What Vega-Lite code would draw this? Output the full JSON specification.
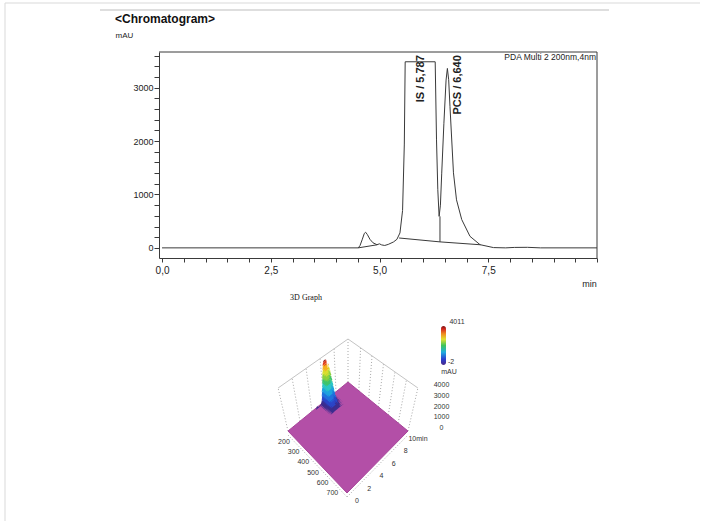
{
  "$schema": "https://vega.github.io/schema/vega-lite/v6.json",
  "width": 701,
  "height": 522,
  "autosize": {"type": "fit", "contains": "padding"},
  "padding": 0,
  "background": "#ffffff",
  "config": {"view": {"stroke": null}, "font": "Liberation Sans", "axis": {"labelOverlap": false, "labelFlush": false}},
  "datasets": {
    "trace": [
      {"t": 0, "v": 0}, {"t": 4.51, "v": 0}, {"t": 4.55, "v": 40}, {"t": 4.6, "v": 150}, {"t": 4.65, "v": 270},
      {"t": 4.68, "v": 293}, {"t": 4.72, "v": 250}, {"t": 4.78, "v": 160}, {"t": 4.85, "v": 95}, {"t": 4.94, "v": 60},
      {"t": 5.0, "v": 75}, {"t": 5.05, "v": 55}, {"t": 5.12, "v": 45}, {"t": 5.2, "v": 65}, {"t": 5.32, "v": 110},
      {"t": 5.4, "v": 160}, {"t": 5.47, "v": 280}, {"t": 5.53, "v": 700}, {"t": 5.57, "v": 1945}, {"t": 5.59, "v": 3487},
      {"t": 6.28, "v": 3487}, {"t": 6.31, "v": 2023}, {"t": 6.34, "v": 1089}, {"t": 6.37, "v": 590}, {"t": 6.4, "v": 800},
      {"t": 6.43, "v": 1400}, {"t": 6.48, "v": 2335}, {"t": 6.53, "v": 3144}, {"t": 6.56, "v": 3362}, {"t": 6.59, "v": 3150},
      {"t": 6.62, "v": 2645}, {"t": 6.7, "v": 1406}, {"t": 6.77, "v": 900}, {"t": 6.89, "v": 530}, {"t": 7.08, "v": 216},
      {"t": 7.31, "v": 60}, {"t": 7.62, "v": 5}, {"t": 7.9, "v": 0}, {"t": 8.1, "v": 8}, {"t": 8.4, "v": 10},
      {"t": 8.7, "v": 0}, {"t": 10, "v": 0}
    ],
    "base": [
      {"seg": "a", "t": 4.51, "v": 0}, {"seg": "a", "t": 4.95, "v": 58},
      {"seg": "b", "t": 5.45, "v": 185}, {"seg": "b", "t": 6.39, "v": 112}, {"seg": "b", "t": 7.32, "v": 58},
      {"seg": "c", "t": 6.39, "v": 112}, {"seg": "c", "t": 6.39, "v": 590}
    ],
    "peaks": [
      {"t": 5.95, "v": 3611, "label": "IS / 5,787"},
      {"t": 6.8, "v": 3611, "label": "PCS / 6,640"}
    ],
    "floor": [
      {"k": 1, "t": 0, "wl": 190}, {"k": 2, "t": 10, "wl": 190}, {"k": 3, "t": 10, "wl": 800},
      {"k": 4, "t": 0, "wl": 800}, {"k": 5, "t": 0, "wl": 190}
    ],
    "walls": [
      {"t": 0, "wl": 190}, {"t": 2, "wl": 190}, {"t": 4, "wl": 190}, {"t": 6, "wl": 190}, {"t": 8, "wl": 190},
      {"t": 10, "wl": 190}, {"t": 10, "wl": 300}, {"t": 10, "wl": 400}, {"t": 10, "wl": 500}, {"t": 10, "wl": 600},
      {"t": 10, "wl": 700}, {"t": 10, "wl": 800}
    ],
    "topedge": [
      {"k": 1, "t": 0, "wl": 190}, {"k": 2, "t": 10, "wl": 190}, {"k": 3, "t": 10, "wl": 800}
    ],
    "faxis": [
      {"ax": "t", "t": 0, "wl": 800}, {"ax": "t", "t": 10, "wl": 800},
      {"ax": "w", "t": 0, "wl": 190}, {"ax": "w", "t": 0, "wl": 800}
    ],
    "surface": [
      {"wl": 200, "t": 4.5, "z": 0}, {"wl": 200, "t": 4.6, "z": 150}, {"wl": 200, "t": 4.68, "z": 300}, {"wl": 200, "t": 4.8, "z": 120},
      {"wl": 200, "t": 5.0, "z": 60}, {"wl": 200, "t": 5.3, "z": 120}, {"wl": 200, "t": 5.45, "z": 400}, {"wl": 200, "t": 5.52, "z": 1500},
      {"wl": 200, "t": 5.58, "z": 3000}, {"wl": 200, "t": 5.65, "z": 3800}, {"wl": 200, "t": 5.75, "z": 4011}, {"wl": 200, "t": 6.0, "z": 4011},
      {"wl": 200, "t": 6.2, "z": 3900}, {"wl": 200, "t": 6.3, "z": 3000}, {"wl": 200, "t": 6.38, "z": 1800}, {"wl": 200, "t": 6.45, "z": 2600},
      {"wl": 200, "t": 6.55, "z": 3400}, {"wl": 200, "t": 6.65, "z": 3000}, {"wl": 200, "t": 6.75, "z": 2000}, {"wl": 200, "t": 6.9, "z": 1000},
      {"wl": 200, "t": 7.1, "z": 400}, {"wl": 200, "t": 7.4, "z": 100}, {"wl": 200, "t": 7.7, "z": 0},
      {"wl": 210, "t": 5.2, "z": 0}, {"wl": 210, "t": 5.45, "z": 372}, {"wl": 210, "t": 5.52, "z": 1395}, {"wl": 210, "t": 5.58, "z": 2790},
      {"wl": 210, "t": 5.65, "z": 3534}, {"wl": 210, "t": 5.75, "z": 3730}, {"wl": 210, "t": 6.0, "z": 3730}, {"wl": 210, "t": 6.2, "z": 3627},
      {"wl": 210, "t": 6.3, "z": 2790}, {"wl": 210, "t": 6.38, "z": 1674}, {"wl": 210, "t": 6.45, "z": 2418}, {"wl": 210, "t": 6.55, "z": 3162},
      {"wl": 210, "t": 6.65, "z": 2790}, {"wl": 210, "t": 6.75, "z": 1860}, {"wl": 210, "t": 6.9, "z": 930}, {"wl": 210, "t": 7.1, "z": 372},
      {"wl": 210, "t": 7.4, "z": 93}, {"wl": 210, "t": 7.7, "z": 0},
      {"wl": 220, "t": 5.2, "z": 0}, {"wl": 220, "t": 5.45, "z": 340}, {"wl": 220, "t": 5.52, "z": 1275}, {"wl": 220, "t": 5.58, "z": 2550},
      {"wl": 220, "t": 5.65, "z": 3230}, {"wl": 220, "t": 5.75, "z": 3410}, {"wl": 220, "t": 6.0, "z": 3410}, {"wl": 220, "t": 6.2, "z": 3315},
      {"wl": 220, "t": 6.3, "z": 2550}, {"wl": 220, "t": 6.38, "z": 1530}, {"wl": 220, "t": 6.45, "z": 2210}, {"wl": 220, "t": 6.55, "z": 2890},
      {"wl": 220, "t": 6.65, "z": 2550}, {"wl": 220, "t": 6.75, "z": 1700}, {"wl": 220, "t": 6.9, "z": 850}, {"wl": 220, "t": 7.1, "z": 340},
      {"wl": 220, "t": 7.4, "z": 85}, {"wl": 220, "t": 7.7, "z": 0},
      {"wl": 230, "t": 5.2, "z": 0}, {"wl": 230, "t": 5.45, "z": 292}, {"wl": 230, "t": 5.52, "z": 1095}, {"wl": 230, "t": 5.58, "z": 2190},
      {"wl": 230, "t": 5.65, "z": 2774}, {"wl": 230, "t": 5.75, "z": 2928}, {"wl": 230, "t": 6.0, "z": 2928}, {"wl": 230, "t": 6.2, "z": 2847},
      {"wl": 230, "t": 6.3, "z": 2190}, {"wl": 230, "t": 6.38, "z": 1314}, {"wl": 230, "t": 6.45, "z": 1898}, {"wl": 230, "t": 6.55, "z": 2482},
      {"wl": 230, "t": 6.65, "z": 2190}, {"wl": 230, "t": 6.75, "z": 1460}, {"wl": 230, "t": 6.9, "z": 730}, {"wl": 230, "t": 7.1, "z": 292},
      {"wl": 230, "t": 7.4, "z": 73}, {"wl": 230, "t": 7.7, "z": 0},
      {"wl": 240, "t": 5.2, "z": 0}, {"wl": 240, "t": 5.45, "z": 250}, {"wl": 240, "t": 5.52, "z": 930}, {"wl": 240, "t": 5.58, "z": 1860},
      {"wl": 240, "t": 5.65, "z": 2356}, {"wl": 240, "t": 5.75, "z": 2490}, {"wl": 240, "t": 6.0, "z": 2490}, {"wl": 240, "t": 6.2, "z": 2420},
      {"wl": 240, "t": 6.3, "z": 1860}, {"wl": 240, "t": 6.38, "z": 1116}, {"wl": 240, "t": 6.45, "z": 1610}, {"wl": 240, "t": 6.55, "z": 2110},
      {"wl": 240, "t": 6.65, "z": 1860}, {"wl": 240, "t": 6.75, "z": 1240}, {"wl": 240, "t": 6.9, "z": 620}, {"wl": 240, "t": 7.1, "z": 250},
      {"wl": 240, "t": 7.4, "z": 60}, {"wl": 240, "t": 7.7, "z": 0},
      {"wl": 250, "t": 5.2, "z": 0}, {"wl": 250, "t": 5.45, "z": 200}, {"wl": 250, "t": 5.52, "z": 750}, {"wl": 250, "t": 5.58, "z": 1500},
      {"wl": 250, "t": 5.65, "z": 1900}, {"wl": 250, "t": 5.75, "z": 2006}, {"wl": 250, "t": 6.0, "z": 2006}, {"wl": 250, "t": 6.2, "z": 1950},
      {"wl": 250, "t": 6.3, "z": 1500}, {"wl": 250, "t": 6.38, "z": 900}, {"wl": 250, "t": 6.45, "z": 1300}, {"wl": 250, "t": 6.55, "z": 1700},
      {"wl": 250, "t": 6.65, "z": 1500}, {"wl": 250, "t": 6.75, "z": 1000}, {"wl": 250, "t": 6.9, "z": 500}, {"wl": 250, "t": 7.1, "z": 200},
      {"wl": 250, "t": 7.4, "z": 50}, {"wl": 250, "t": 7.7, "z": 0},
      {"wl": 260, "t": 5.2, "z": 0}, {"wl": 260, "t": 5.45, "z": 160}, {"wl": 260, "t": 5.52, "z": 600}, {"wl": 260, "t": 5.58, "z": 1200},
      {"wl": 260, "t": 5.65, "z": 1520}, {"wl": 260, "t": 5.75, "z": 1600}, {"wl": 260, "t": 6.0, "z": 1600}, {"wl": 260, "t": 6.2, "z": 1560},
      {"wl": 260, "t": 6.3, "z": 1200}, {"wl": 260, "t": 6.38, "z": 720}, {"wl": 260, "t": 6.45, "z": 1040}, {"wl": 260, "t": 6.55, "z": 1360},
      {"wl": 260, "t": 6.65, "z": 1200}, {"wl": 260, "t": 6.75, "z": 800}, {"wl": 260, "t": 6.9, "z": 400}, {"wl": 260, "t": 7.1, "z": 160},
      {"wl": 260, "t": 7.4, "z": 40}, {"wl": 260, "t": 7.7, "z": 0},
      {"wl": 270, "t": 5.2, "z": 0}, {"wl": 270, "t": 5.45, "z": 120}, {"wl": 270, "t": 5.52, "z": 450}, {"wl": 270, "t": 5.58, "z": 900},
      {"wl": 270, "t": 5.65, "z": 1140}, {"wl": 270, "t": 5.75, "z": 1203}, {"wl": 270, "t": 6.0, "z": 1203}, {"wl": 270, "t": 6.2, "z": 1170},
      {"wl": 270, "t": 6.3, "z": 900}, {"wl": 270, "t": 6.38, "z": 540}, {"wl": 270, "t": 6.45, "z": 780}, {"wl": 270, "t": 6.55, "z": 1020},
      {"wl": 270, "t": 6.65, "z": 900}, {"wl": 270, "t": 6.75, "z": 600}, {"wl": 270, "t": 6.9, "z": 300}, {"wl": 270, "t": 7.1, "z": 120},
      {"wl": 270, "t": 7.4, "z": 30}, {"wl": 270, "t": 7.7, "z": 0},
      {"wl": 280, "t": 5.2, "z": 0}, {"wl": 280, "t": 5.45, "z": 90}, {"wl": 280, "t": 5.52, "z": 330}, {"wl": 280, "t": 5.58, "z": 660},
      {"wl": 280, "t": 5.65, "z": 836}, {"wl": 280, "t": 5.75, "z": 880}, {"wl": 280, "t": 6.0, "z": 880}, {"wl": 280, "t": 6.2, "z": 860},
      {"wl": 280, "t": 6.3, "z": 660}, {"wl": 280, "t": 6.38, "z": 400}, {"wl": 280, "t": 6.45, "z": 570}, {"wl": 280, "t": 6.55, "z": 750},
      {"wl": 280, "t": 6.65, "z": 660}, {"wl": 280, "t": 6.75, "z": 440}, {"wl": 280, "t": 6.9, "z": 220}, {"wl": 280, "t": 7.1, "z": 90},
      {"wl": 280, "t": 7.4, "z": 20}, {"wl": 280, "t": 7.7, "z": 0},
      {"wl": 290, "t": 5.2, "z": 0}, {"wl": 290, "t": 5.45, "z": 60}, {"wl": 290, "t": 5.52, "z": 225}, {"wl": 290, "t": 5.58, "z": 450},
      {"wl": 290, "t": 5.65, "z": 570}, {"wl": 290, "t": 5.75, "z": 602}, {"wl": 290, "t": 6.0, "z": 602}, {"wl": 290, "t": 6.2, "z": 585},
      {"wl": 290, "t": 6.3, "z": 450}, {"wl": 290, "t": 6.38, "z": 270}, {"wl": 290, "t": 6.45, "z": 390}, {"wl": 290, "t": 6.55, "z": 510},
      {"wl": 290, "t": 6.65, "z": 450}, {"wl": 290, "t": 6.75, "z": 300}, {"wl": 290, "t": 6.9, "z": 150}, {"wl": 290, "t": 7.1, "z": 60},
      {"wl": 290, "t": 7.4, "z": 15}, {"wl": 290, "t": 7.7, "z": 0},
      {"wl": 300, "t": 5.3, "z": 0}, {"wl": 300, "t": 5.52, "z": 150}, {"wl": 300, "t": 5.58, "z": 300}, {"wl": 300, "t": 5.65, "z": 380},
      {"wl": 300, "t": 5.75, "z": 400}, {"wl": 300, "t": 6.0, "z": 400}, {"wl": 300, "t": 6.2, "z": 390}, {"wl": 300, "t": 6.3, "z": 300},
      {"wl": 300, "t": 6.38, "z": 180}, {"wl": 300, "t": 6.45, "z": 260}, {"wl": 300, "t": 6.55, "z": 340}, {"wl": 300, "t": 6.65, "z": 300},
      {"wl": 300, "t": 6.75, "z": 200}, {"wl": 300, "t": 6.9, "z": 100}, {"wl": 300, "t": 7.1, "z": 40}, {"wl": 300, "t": 7.5, "z": 0}
    ],
    "tlab": [
      {"t": 0, "wl": 800, "lab": "0"}, {"t": 2, "wl": 800, "lab": "2"}, {"t": 4, "wl": 800, "lab": "4"},
      {"t": 6, "wl": 800, "lab": "6"}, {"t": 8, "wl": 800, "lab": "8"}, {"t": 10, "wl": 800, "lab": "10min"}
    ],
    "wllab": [
      {"t": 0, "wl": 200, "lab": "200"}, {"t": 0, "wl": 300, "lab": "300"}, {"t": 0, "wl": 400, "lab": "400"},
      {"t": 0, "wl": 500, "lab": "500"}, {"t": 0, "wl": 600, "lab": "600"}, {"t": 0, "wl": 700, "lab": "700"}
    ],
    "zlab": [
      {"t": 10, "wl": 800, "z": 0, "lab": "0"}, {"t": 10, "wl": 800, "z": 1000, "lab": "1000"},
      {"t": 10, "wl": 800, "z": 2000, "lab": "2000"}, {"t": 10, "wl": 800, "z": 3000, "lab": "3000"},
      {"t": 10, "wl": 800, "z": 4000, "lab": "4000"}
    ]
  },
  "layer": [
    {
      "layer": [
        {
          "data": {"name": "trace"},
          "mark": {"type": "line", "stroke": "#3a3a3a", "strokeWidth": 1},
          "encoding": {
            "x": {
              "field": "t", "type": "quantitative",
              "scale": {"domain": [-0.07, 10], "range": [159, 597], "nice": false, "zero": false},
              "axis": {
                "orient": "bottom",
                "values": [0, 2.5, 5, 7.5],
                "format": ".1f",
                "labelExpr": "replace(datum.label, '.', ',')",
                "offset": -264, "grid": false,
                "domainColor": "#3a3a3a", "tickColor": "#3a3a3a", "tickSize": 4,
                "labelFontSize": 10, "labelColor": "#222222", "labelPadding": 3,
                "labelOverlap": false, "labelFlush": false,
                "title": "min", "titleX": 589, "titleY": 25, "titleAlign": "center", "titleBaseline": "middle",
                "titleFontSize": 9, "titleFontWeight": "normal", "titleColor": "#222222"
              }
            },
            "y": {
              "field": "v", "type": "quantitative",
              "scale": {"domain": [-190, 3670], "range": [258, 52], "nice": false, "zero": false},
              "axis": {
                "orient": "left",
                "values": [0, 1000, 2000, 3000],
                "format": "d",
                "offset": -159, "grid": false,
                "domainColor": "#3a3a3a", "tickColor": "#3a3a3a", "tickSize": 5,
                "labelFontSize": 9, "labelColor": "#222222", "labelPadding": 1, "labelOverlap": false, "labelFlush": false,
                "title": "mAU", "titleX": -44, "titleY": 35, "titleAngle": 0, "titleAlign": "left", "titleBaseline": "middle",
                "titleFontSize": 8, "titleFontWeight": "normal", "titleColor": "#222222"
              }
            }
          }
        },
        {
          "data": {"values": [{}]},
          "mark": {"type": "rule", "stroke": "#3a3a3a", "strokeWidth": 1},
          "encoding": {
            "x": {
              "datum": -0.07, "type": "quantitative",
              "axis": {
                "orient": "bottom",
                "values": [0.5, 1, 1.5, 2, 3, 3.5, 4, 4.5, 5.5, 6, 6.5, 7, 8, 8.5, 9, 9.5, 10],
                "labels": false, "domain": false, "title": null, "offset": -264, "grid": false,
                "tickColor": "#3a3a3a", "tickSize": 4
              }
            },
            "x2": {"datum": 10},
            "y": {
              "datum": 3670, "type": "quantitative",
              "axis": {
                "orient": "left",
                "values": [200, 400, 600, 800, 1200, 1400, 1600, 1800, 2200, 2400, 2600, 2800, 3200, 3400, 3600],
                "labels": false, "domain": false, "title": null, "offset": -159, "grid": false,
                "tickColor": "#3a3a3a", "tickSize": 5
              }
            }
          }
        },
        {
          "data": {"values": [{}]},
          "mark": {"type": "rule", "stroke": "#3a3a3a", "strokeWidth": 1},
          "encoding": {
            "x": {"datum": 10, "type": "quantitative", "axis": null},
            "y": {"datum": -190, "type": "quantitative", "axis": null},
            "y2": {"datum": 3670}
          }
        },
        {
          "data": {"name": "base"},
          "mark": {"type": "line", "stroke": "#3a3a3a", "strokeWidth": 1},
          "encoding": {
            "x": {"field": "t", "type": "quantitative", "axis": null},
            "y": {"field": "v", "type": "quantitative", "axis": null},
            "detail": {"field": "seg"}
          }
        },
        {
          "data": {"name": "peaks"},
          "mark": {"type": "text", "angle": 270, "align": "right", "baseline": "middle", "fontSize": 11, "fontWeight": "bold", "color": "#222222"},
          "encoding": {
            "x": {"field": "t", "type": "quantitative", "axis": null},
            "y": {"field": "v", "type": "quantitative", "axis": null},
            "text": {"field": "label"}
          }
        },
        {
          "data": {"values": [{}]},
          "mark": {"type": "text", "align": "right", "baseline": "middle", "dx": -1, "fontSize": 8.5, "font": "Liberation Sans", "color": "#222222", "text": "PDA Multi 2 200nm,4nm"},
          "encoding": {
            "x": {"datum": 10, "type": "quantitative", "axis": null},
            "y": {"datum": 3570, "type": "quantitative", "axis": null}
          }
        }
      ],
      "resolve": {"axis": {"x": "independent", "y": "independent"}}
    },
    {
      "layer": [
        {
          "data": {"values": [{}]},
          "mark": {"type": "rule", "stroke": "#d9d9d9", "strokeWidth": 1},
          "encoding": {
            "x": {"datum": 5, "type": "quantitative", "scale": {"domain": [0, 701], "range": [0, 701], "nice": false, "zero": false}, "axis": null},
            "x2": {"datum": 700},
            "y": {"datum": 3, "type": "quantitative", "scale": {"domain": [0, 522], "range": [0, 522], "nice": false, "zero": false}, "axis": null}
          }
        },
        {
          "data": {"values": [{}]},
          "mark": {"type": "rule", "stroke": "#d9d9d9", "strokeWidth": 1},
          "encoding": {
            "x": {"datum": 5, "type": "quantitative", "axis": null},
            "y": {"datum": 3, "type": "quantitative", "axis": null},
            "y2": {"datum": 521}
          }
        },
        {
          "data": {"values": [{}]},
          "mark": {"type": "rule", "stroke": "#bdbdbd", "strokeWidth": 1.2},
          "encoding": {
            "x": {"datum": 100, "type": "quantitative", "axis": null},
            "x2": {"datum": 609},
            "y": {"datum": 10, "type": "quantitative", "axis": null}
          }
        },
        {
          "data": {"values": [{}]},
          "mark": {"type": "text", "align": "left", "baseline": "middle", "fontSize": 12, "fontWeight": "bold", "color": "#111111", "text": "<Chromatogram>"},
          "encoding": {
            "x": {"datum": 115, "type": "quantitative", "axis": null},
            "y": {"datum": 19, "type": "quantitative", "axis": null}
          }
        },
        {
          "data": {"values": [{}]},
          "mark": {"type": "text", "align": "center", "baseline": "middle", "fontSize": 8, "font": "Liberation Serif", "color": "#111111", "text": "3D Graph"},
          "encoding": {
            "x": {"datum": 306, "type": "quantitative", "axis": null},
            "y": {"datum": 298, "type": "quantitative", "axis": null}
          }
        },
        {
          "data": {"name": "walls"},
          "transform": [
            {"calculate": "datum.t/10", "as": "u"},
            {"calculate": "(800-datum.wl)/610", "as": "v"},
            {"calculate": "(1-datum.u)*(1-datum.v)*347+datum.u*(1-datum.v)*408+(1-datum.u)*datum.v*288+datum.u*datum.v*348", "as": "bx"},
            {"calculate": "(1-datum.u)*(1-datum.v)*493+datum.u*(1-datum.v)*431+(1-datum.u)*datum.v*431+datum.u*datum.v*382", "as": "by"},
            {"calculate": "datum.bx+(datum.bx-348)*0.165", "as": "tx"},
            {"calculate": "datum.by-43", "as": "ty"}
          ],
          "mark": {"type": "rule", "stroke": "#a8a8a8", "strokeWidth": 1, "strokeDash": [1, 2]},
          "encoding": {
            "x": {"field": "bx", "type": "quantitative", "axis": null},
            "y": {"field": "by", "type": "quantitative", "axis": null},
            "x2": {"field": "tx"},
            "y2": {"field": "ty"}
          }
        },
        {
          "data": {"name": "topedge"},
          "transform": [
            {"calculate": "datum.t/10", "as": "u"},
            {"calculate": "(800-datum.wl)/610", "as": "v"},
            {"calculate": "(1-datum.u)*(1-datum.v)*347+datum.u*(1-datum.v)*408+(1-datum.u)*datum.v*288+datum.u*datum.v*348", "as": "bx"},
            {"calculate": "(1-datum.u)*(1-datum.v)*493+datum.u*(1-datum.v)*431+(1-datum.u)*datum.v*431+datum.u*datum.v*382", "as": "by"},
            {"calculate": "datum.bx+(datum.bx-348)*0.165", "as": "tx"},
            {"calculate": "datum.by-43", "as": "ty"}
          ],
          "mark": {"type": "line", "stroke": "#c4c4c4", "strokeWidth": 1},
          "encoding": {
            "x": {"field": "tx", "type": "quantitative", "axis": null},
            "y": {"field": "ty", "type": "quantitative", "axis": null},
            "order": {"field": "k"}
          }
        },
        {
          "data": {"name": "faxis"},
          "transform": [
            {"calculate": "datum.t/10", "as": "u"},
            {"calculate": "(800-datum.wl)/610", "as": "v"},
            {"calculate": "(1-datum.u)*(1-datum.v)*347+datum.u*(1-datum.v)*408+(1-datum.u)*datum.v*288+datum.u*datum.v*348", "as": "bx"},
            {"calculate": "(1-datum.u)*(1-datum.v)*493+datum.u*(1-datum.v)*431+(1-datum.u)*datum.v*431+datum.u*datum.v*382", "as": "by"}
          ],
          "mark": {"type": "line", "stroke": "#a8a8a8", "strokeWidth": 1, "strokeDash": [1, 2], "yOffset": 4},
          "encoding": {
            "x": {"field": "bx", "type": "quantitative", "axis": null},
            "y": {"field": "by", "type": "quantitative", "axis": null},
            "detail": {"field": "ax"}
          }
        },
        {
          "data": {"name": "floor"},
          "transform": [
            {"calculate": "datum.t/10", "as": "u"},
            {"calculate": "(800-datum.wl)/610", "as": "v"},
            {"calculate": "(1-datum.u)*(1-datum.v)*347+datum.u*(1-datum.v)*408+(1-datum.u)*datum.v*288+datum.u*datum.v*348", "as": "bx"},
            {"calculate": "(1-datum.u)*(1-datum.v)*493+datum.u*(1-datum.v)*431+(1-datum.u)*datum.v*431+datum.u*datum.v*382", "as": "by"}
          ],
          "mark": {"type": "line", "fill": "#b34fa7", "stroke": "#a8449a", "strokeWidth": 1},
          "encoding": {
            "x": {"field": "bx", "type": "quantitative", "axis": null},
            "y": {"field": "by", "type": "quantitative", "axis": null},
            "order": {"field": "k"}
          }
        },
        {
          "data": {"name": "surface"},
          "transform": [
            {"calculate": "datum.t/10", "as": "u"},
            {"calculate": "(800-datum.wl)/610", "as": "v"},
            {"calculate": "(1-datum.u)*(1-datum.v)*347+datum.u*(1-datum.v)*408+(1-datum.u)*datum.v*288+datum.u*datum.v*348", "as": "bx"},
            {"calculate": "(1-datum.u)*(1-datum.v)*493+datum.u*(1-datum.v)*431+(1-datum.u)*datum.v*431+datum.u*datum.v*382", "as": "by"},
            {"calculate": "[0,400,800,1200,1600,2000,2400,2800,3200,3600,3900]", "as": "lo"},
            {"flatten": ["lo"]},
            {"calculate": "datum.lo == 3900 ? 6000 : (datum.lo == 3600 ? 3900 : datum.lo + 400)", "as": "hi"},
            {"calculate": "datum.by - min(max(datum.z, datum.lo), datum.hi) * 43 / 4011", "as": "ytop"},
            {"calculate": "datum.by - datum.lo * 43 / 4011", "as": "ybot"}
          ],
          "mark": {"type": "area", "interpolate": "linear"},
          "encoding": {
            "x": {"field": "bx", "type": "quantitative", "axis": null},
            "y": {"field": "ytop", "type": "quantitative", "axis": null, "stack": null},
            "y2": {"field": "ybot"},
            "detail": {"field": "wl"},
            "color": {
              "field": "lo", "type": "ordinal", "legend": null,
              "scale": {
                "domain": [0, 400, 800, 1200, 1600, 2000, 2400, 2800, 3200, 3600, 3900],
                "range": ["#3b2d8f", "#2b45c8", "#1f72dd", "#1ea3df", "#2cc7c4", "#3fc46a", "#8cd13c", "#d8de2e", "#f5b21f", "#e0401f", "#8f1515"]
              }
            }
          }
        },
        {
          "data": {"name": "tlab"},
          "transform": [
            {"calculate": "datum.t/10", "as": "u"},
            {"calculate": "(800-datum.wl)/610", "as": "v"},
            {"calculate": "(1-datum.u)*(1-datum.v)*347+datum.u*(1-datum.v)*408+(1-datum.u)*datum.v*288+datum.u*datum.v*348", "as": "bx"},
            {"calculate": "(1-datum.u)*(1-datum.v)*493+datum.u*(1-datum.v)*431+(1-datum.u)*datum.v*431+datum.u*datum.v*382", "as": "by"}
          ],
          "mark": {"type": "text", "align": "center", "baseline": "middle", "dx": 10, "dy": 8, "fontSize": 7, "color": "#333333"},
          "encoding": {
            "x": {"field": "bx", "type": "quantitative", "axis": null},
            "y": {"field": "by", "type": "quantitative", "axis": null},
            "text": {"field": "lab"}
          }
        },
        {
          "data": {"name": "wllab"},
          "transform": [
            {"calculate": "datum.t/10", "as": "u"},
            {"calculate": "(800-datum.wl)/610", "as": "v"},
            {"calculate": "(1-datum.u)*(1-datum.v)*347+datum.u*(1-datum.v)*408+(1-datum.u)*datum.v*288+datum.u*datum.v*348", "as": "bx"},
            {"calculate": "(1-datum.u)*(1-datum.v)*493+datum.u*(1-datum.v)*431+(1-datum.u)*datum.v*431+datum.u*datum.v*382", "as": "by"}
          ],
          "mark": {"type": "text", "align": "center", "baseline": "middle", "dx": -5, "dy": 10, "fontSize": 7, "color": "#333333"},
          "encoding": {
            "x": {"field": "bx", "type": "quantitative", "axis": null},
            "y": {"field": "by", "type": "quantitative", "axis": null},
            "text": {"field": "lab"}
          }
        },
        {
          "data": {"name": "zlab"},
          "transform": [
            {"calculate": "datum.t/10", "as": "u"},
            {"calculate": "(800-datum.wl)/610", "as": "v"},
            {"calculate": "(1-datum.u)*(1-datum.v)*347+datum.u*(1-datum.v)*408+(1-datum.u)*datum.v*288+datum.u*datum.v*348", "as": "bx"},
            {"calculate": "(1-datum.u)*(1-datum.v)*493+datum.u*(1-datum.v)*431+(1-datum.u)*datum.v*431+datum.u*datum.v*382 - datum.z*43/4011", "as": "by"}
          ],
          "mark": {"type": "text", "align": "center", "baseline": "middle", "dx": 33.5, "dy": -3, "fontSize": 7, "color": "#333333"},
          "encoding": {
            "x": {"field": "bx", "type": "quantitative", "axis": null},
            "y": {"field": "by", "type": "quantitative", "axis": null},
            "text": {"field": "lab"}
          }
        },
        {
          "data": {"values": [{}]},
          "mark": {
            "type": "rect", "cornerRadius": 2.5,
            "color": {
              "gradient": "linear", "x1": 0, "y1": 1, "x2": 0, "y2": 0,
              "stops": [
                {"offset": 0, "color": "#4b2a8a"},
                {"offset": 0.15, "color": "#2a3fd0"},
                {"offset": 0.33, "color": "#20aee0"},
                {"offset": 0.5, "color": "#3fc45a"},
                {"offset": 0.66, "color": "#e2e030"},
                {"offset": 0.8, "color": "#f08a20"},
                {"offset": 0.92, "color": "#d42a20"},
                {"offset": 1, "color": "#7a1010"}
              ]
            }
          },
          "encoding": {
            "x": {"datum": 441, "type": "quantitative", "axis": null},
            "x2": {"datum": 446},
            "y": {"datum": 326, "type": "quantitative", "axis": null},
            "y2": {"datum": 365}
          }
        },
        {
          "data": {"values": [{}]},
          "mark": {"type": "text", "align": "center", "baseline": "middle", "fontSize": 7, "color": "#333333", "text": "4011"},
          "encoding": {
            "x": {"datum": 457, "type": "quantitative", "axis": null},
            "y": {"datum": 322, "type": "quantitative", "axis": null}
          }
        },
        {
          "data": {"values": [{}]},
          "mark": {"type": "text", "align": "center", "baseline": "middle", "fontSize": 7, "color": "#333333", "text": "-2"},
          "encoding": {
            "x": {"datum": 451, "type": "quantitative", "axis": null},
            "y": {"datum": 362, "type": "quantitative", "axis": null}
          }
        },
        {
          "data": {"values": [{}]},
          "mark": {"type": "text", "align": "center", "baseline": "middle", "fontSize": 7, "color": "#333333", "text": "mAU"},
          "encoding": {
            "x": {"datum": 449, "type": "quantitative", "axis": null},
            "y": {"datum": 372, "type": "quantitative", "axis": null}
          }
        }
      ]
    }
  ],
  "resolve": {"scale": {"x": "independent", "y": "independent"}}
}
